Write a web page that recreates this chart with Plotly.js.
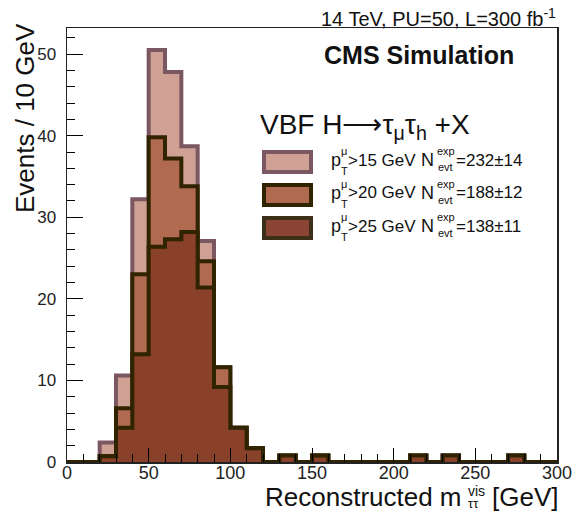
<!DOCTYPE html>
<html><head><meta charset="utf-8">
<script src="https://cdn.plot.ly/plotly-3.0.1.min.js"></script>
<style>html,body{margin:0;padding:0;background:#fff}#chart{width:573px;height:511px}</style>
</head><body><div id="chart"></div>
<script>
// bin edges in GeV (10 GeV bins)
const binEdges = [0,10,20,30,40,50,60,70,80,90,100,110,120,130,140,150,160,170,180,190,200,210,220,230,240,250,260,270,280,290,300];
// Events / 10 GeV for each muon pT threshold
const ptGt15 = [0,0,2.4,10.6,32.2,50.5,47.8,38.7,27.1,11.6,4.2,1.7,0,0.8,0,0.8,0,0,0,0,0,0.8,0,0.8,0,0,0,0.8,0,0];
const ptGt20 = [0,0,0.7,6.6,23.0,39.8,37.2,33.8,24.6,11.6,4.2,1.7,0,0.8,0,0.8,0,0,0,0,0,0.8,0,0.8,0,0,0,0.8,0,0];
const ptGt25 = [0,0,0.7,4.2,13.2,26.4,27.3,28.2,21.4,9.2,4.2,1.7,0,0.8,0,0.8,0,0,0,0,0,0.8,0,0.8,0,0,0,0.8,0,0];
const seriesThresholds = ["15","20","25"];
const seriesNevt = ["=232±14","=188±12","=138±11"];
const xTickVals = [0,50,100,150,200,250,300];
const yTickVals = [0,10,20,30,40,50];

const styles = [
  {fill:'#cfa194', line:'#7b5762'},
  {fill:'#b06a50', line:'#2f2300'},
  {fill:'#8a4129', line:'#2f2300'}
];
const legendBox = [{fill:'#cfa194', line:'#7b5762'},{fill:'#b06a50', line:'#2f2300'},{fill:'#8c4535', line:'#3d3018'}];

function stepTrace(vals, st){
  return {x: binEdges, y: vals.concat([vals[vals.length-1]]), type:'scatter', mode:'lines',
    line:{shape:'hv', color:st.line, width:4}, fill:'tozeroy', fillcolor:st.fill, hoverinfo:'skip'};
}
const data = [stepTrace(ptGt15, styles[0]), stepTrace(ptGt20, styles[1]), stepTrace(ptGt25, styles[2])];

// plot area in pixels
const L=67, R=557, T=28, B=462;
function px(x){return (x-L)/(R-L);} function py(y){return (B-y)/(B-T);}
const FONT='Liberation Sans, Arial, sans-serif';
function ann(text,x,y,size,xanchor,extra){
  return Object.assign({text:text, x:px(x), y:py(y), xref:'paper', yref:'paper', showarrow:false,
    xanchor:xanchor||'left', yanchor:'middle', font:{family:FONT, size:size, color:'#111'}}, extra||{});
}
const annotations = [
  ann('14 TeV, PU=50, L=300 fb<sup>-1</sup>', 558, 17, 20, 'right'),
  ann('<b>CMS Simulation</b>', 419, 55, 25, 'center'),
  ann('VBF H⟶τ<sub>μ</sub>τ<sub>h</sub> +X', 258, 127, 28, 'left'),
  ann('Events / 10 GeV', 25, 118, 26, 'center', {textangle:-90}),
  ann('Reconstructed m', 464, 497, 26, 'right'),
  ann('vis', 466, 491, 14, 'left'),
  ann('ττ', 466, 503, 13, 'left'),
  ann('[GeV]', 490, 497, 26, 'left')
];
const rowY = [160, 193, 226];
const shapes = [];
for (let i=0;i<3;i++){
  const y=rowY[i];
  annotations.push(ann('p', 329, y, 18, 'left'));
  annotations.push(ann('μ', 339, y-9, 11, 'left'));
  annotations.push(ann('T', 339, y+11, 11, 'left'));
  annotations.push(ann('>'+seriesThresholds[i]+' GeV', 346, y, 17, 'left'));
  annotations.push(ann('N', 419, y, 18, 'left'));
  annotations.push(ann('exp', 435, y-9, 11, 'left'));
  annotations.push(ann('evt', 436, y+7, 11, 'left'));
  annotations.push(ann(seriesNevt[i], 454, y, 17, 'left'));
  shapes.push({type:'rect', xref:'paper', yref:'paper', x0:px(264), x1:px(311), y0:py(rowY[i]+2+10), y1:py(rowY[i]+2-10),
    fillcolor:legendBox[i].fill, line:{color:legendBox[i].line, width:4}});
}

const layout = {
  width:573, height:511, margin:{l:L, r:573-R, t:T, b:511-B},
  paper_bgcolor:'#fff', plot_bgcolor:'#fff', showlegend:false,
  font:{family:FONT, color:'#111'},
  xaxis:{range:[0,300], tickvals:xTickVals, ticks:'inside', ticklen:14, tickcolor:'#000', tickwidth:1,
    minor:{dtick:10, ticks:'inside', ticklen:8, tickcolor:'#000'},
    showgrid:false, zeroline:false, showline:true, linecolor:'#222', linewidth:1.5, mirror:true,
    tickfont:{size:18, color:'#222'}, ticklabelstandoff:-6},
  yaxis:{range:[0,53.2], tickvals:yTickVals, ticks:'inside', ticklen:16, tickcolor:'#000', tickwidth:1,
    minor:{dtick:2, ticks:'inside', ticklen:8, tickcolor:'#000'},
    showgrid:false, zeroline:false, showline:true, linecolor:'#222', linewidth:1.5, mirror:true,
    tickfont:{size:17, color:'#222'}, ticklabelstandoff:6},
  annotations:annotations, shapes:shapes
};
Plotly.newPlot('chart', data, layout, {displayModeBar:false, staticPlot:true});
</script></body></html>
